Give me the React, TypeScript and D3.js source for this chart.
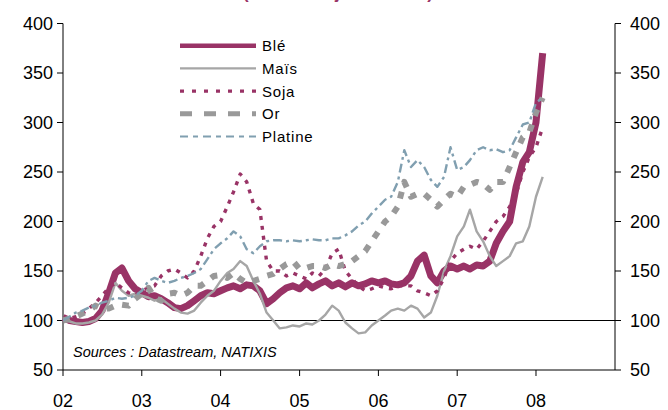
import React from "react";
import * as d3 from "d3";

// Monthly values, base 100 = January 2002 (Jan 2002 .. Feb 2008)
const ble = [
  103, 100, 99, 98, 99, 102, 110, 128, 148, 153, 140, 132,
  128, 124, 125, 122, 118, 113, 112, 115, 120, 125, 128, 127,
  130, 133, 135, 132, 136, 135, 130, 117, 122, 128, 133, 135,
  132, 138, 133, 137, 140, 135, 138, 134, 138, 135, 137, 140,
  138, 140, 137, 136, 138, 145, 160, 166, 145, 138, 150, 155,
  152, 155, 152, 156, 155, 160, 178, 190, 200, 235, 260, 270,
  300, 370,
];
const mais = [
  100, 99, 97, 97, 98, 100, 106, 118, 138, 130, 125, 127,
  125, 123, 120, 122, 117, 112, 108, 107, 110, 118, 125, 130,
  140, 148, 152, 160, 155, 140, 127, 108, 100, 92, 93, 95,
  94, 97, 96, 100, 106, 115, 110, 98, 92, 87, 88, 95,
  100, 105, 110, 112, 110, 115, 112, 103, 108, 125, 150, 165,
  185, 195, 212, 190, 180, 165, 155, 160, 165, 178, 180, 195,
  225, 245,
];
const soja = [
  100, 102, 104, 107, 112, 118, 125, 133, 138, 133, 128, 126,
  130, 133, 135, 145, 150, 152, 148, 143, 150, 165, 183, 195,
  200, 215, 230, 248, 240, 218, 212, 160, 150, 150, 145, 148,
  145, 142, 148, 145, 152, 168, 172, 150, 142, 135, 130, 132,
  135, 133, 132, 135, 135, 135, 130, 128, 125, 130, 143, 160,
  168, 172, 175, 172, 180, 190, 200, 205, 215, 228, 250, 265,
  275, 295,
];
const or = [
  100, 102, 104, 107, 110, 115, 112, 112, 115, 116, 115, 122,
  127, 133, 123, 120, 127, 128, 125, 128, 135, 135, 140, 145,
  146, 143, 148, 142, 138, 140, 142, 145, 147, 152, 157, 160,
  152, 153, 155, 155, 153, 157, 155, 157, 160, 165, 170, 180,
  190, 200, 205, 215, 240, 225, 228, 228, 222, 215, 222, 228,
  225, 235, 237, 240, 238, 232, 240, 240, 255, 270, 285, 290,
  310, 325,
];
const platine = [
  100, 104, 108, 110, 113, 115, 118, 120, 123, 122, 123, 125,
  130, 140, 143, 140, 138, 140, 143, 145, 148, 152, 162, 172,
  178, 183, 190, 185, 172, 168, 175, 180, 181, 181, 180, 181,
  180, 181, 182, 181, 181, 183, 183, 186, 190, 196, 200, 208,
  215, 222, 225, 240, 272, 255, 262, 255, 242, 235, 245, 275,
  252, 255, 262, 272, 275, 272, 273, 270, 272, 285, 298, 300,
  320, 325,
];

const seriesNames = ["Blé", "Maïs", "Soja", "Or", "Platine"];
const yTicks = [50, 100, 150, 200, 250, 300, 350, 400];
const xTickLabels = ["02", "03", "04", "05", "06", "07", "08"];

const styles = [
  { color: "#993366", width: 7, dash: null as string | null },
  { color: "#a6a6a6", width: 2.4, dash: null },
  { color: "#993366", width: 3.4, dash: "4,6" },
  { color: "#999999", width: 6, dash: "7,9" },
  { color: "#809fb0", width: 2.4, dash: "9,4,3,4" },
];

export default function App() {
  const W = 668, H = 410;
  const left = 63, right = 615, top = 23.5, bottom = 370;
  const start = new Date(2002, 0, 1);
  const x = d3.scaleTime().domain([start, new Date(2009, 0, 1)]).range([left, right]);
  const y = d3.scaleLinear().domain([50, 400]).range([bottom, top]);
  const data = [ble, mais, soja, or, platine];
  const line = d3
    .line<number>()
    .x((_, i) => x(d3.timeMonth.offset(start, i)))
    .y((d) => y(d));
  const years = xTickLabels.map((_, i) => new Date(2002 + i, 0, 1));
  const font = "Arial, 'Liberation Sans', sans-serif";

  return (
    <svg width={W} height={H} style={{ position: "absolute", left: 0, top: 0 }} fontFamily={font}>
      <rect width={W} height={H} fill="#fff" />
      <text x={338} y={-1} textAnchor="middle" fontSize={17} fontWeight="bold" fill="#993366" textLength={190}>
        (base 100 = janvier 2002)
      </text>
      {/* axes */}
      <line x1={left} x2={left} y1={top} y2={bottom} stroke="#000" strokeWidth={1} />
      <line x1={right} x2={right} y1={top} y2={bottom} stroke="#000" strokeWidth={1} />
      <line x1={left} x2={right} y1={bottom} y2={bottom} stroke="#000" strokeWidth={1} />
      <line x1={left} x2={right} y1={y(100)} y2={y(100)} stroke="#000" strokeWidth={1} />
      {yTicks.map((t) => (
        <g key={t}>
          <line x1={left - 6} x2={left} y1={y(t)} y2={y(t)} stroke="#000" />
          <line x1={right} x2={right + 6} y1={y(t)} y2={y(t)} stroke="#000" />
          <text x={53} y={y(t)} dy="0.36em" textAnchor="end" fontSize={18} fill="#000">{t}</text>
          <text x={630} y={y(t)} dy="0.36em" textAnchor="start" fontSize={18} fill="#000">{t}</text>
        </g>
      ))}
      {years.map((d, i) => (
        <g key={i}>
          <line x1={x(d)} x2={x(d)} y1={bottom} y2={bottom + 6} stroke="#000" />
          <text x={x(d)} y={407} textAnchor="middle" fontSize={18} fill="#000">{xTickLabels[i]}</text>
        </g>
      ))}
      {/* series */}
      {data.map((s, k) => (
        <path
          key={k}
          d={line(s) || ""}
          fill="none"
          stroke={styles[k].color}
          strokeWidth={styles[k].width}
          strokeDasharray={styles[k].dash || undefined}
          strokeLinejoin="round"
        />
      ))}
      {/* legend */}
      {seriesNames.map((n, k) => {
        const ly = 45.7 + k * 22.7;
        return (
          <g key={n}>
            <line x1={180} x2={256} y1={ly} y2={ly} stroke={styles[k].color}
              strokeWidth={k === 0 ? 4.5 : k === 3 ? 5 : k === 2 ? 3.2 : 2.2}
              strokeDasharray={k === 3 ? "12,12" : k === 2 ? "4,8" : k === 4 ? "8,5,5,5" : undefined} />
            <text x={262} y={ly} dy="0.36em" fontSize={15} letterSpacing={0.8} fill="#000">{n}</text>
          </g>
        );
      })}
      <text x={73} y={357} fontSize={14.5} fontStyle="italic" fill="#000">Sources : Datastream, NATIXIS</text>
    </svg>
  );
}
